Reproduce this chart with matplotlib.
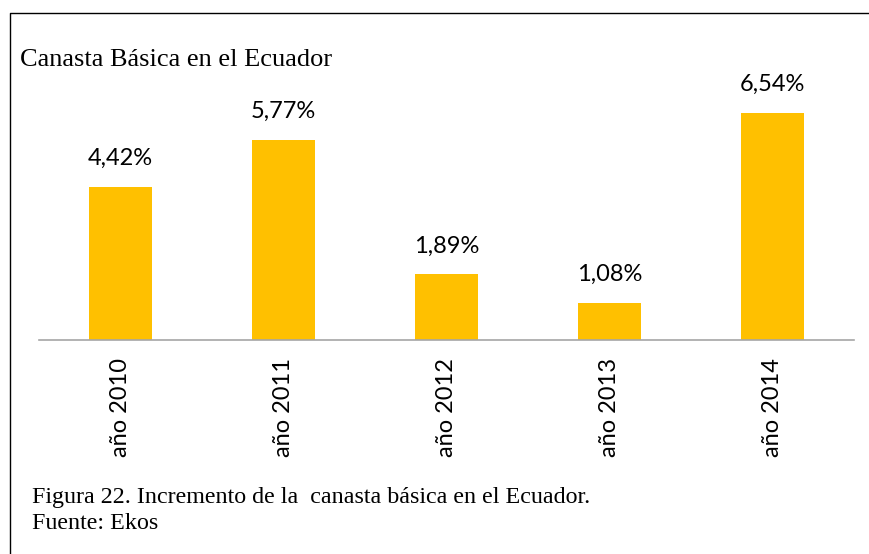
import matplotlib
matplotlib.use("Agg")
import matplotlib.pyplot as plt
from matplotlib.lines import Line2D

years = ["año 2010", "año 2011", "año 2012", "año 2013", "año 2014"]
values = [4.42, 5.77, 1.89, 1.08, 6.54]
labels = ["4,42%", "5,77%", "1,89%", "1,08%", "6,54%"]

W, H = 869, 554
fig = plt.figure(figsize=(W / 100, H / 100), dpi=100)

# plot area in pixels: x 39..854, baseline at y=340, top at y=80
ax = fig.add_axes([39 / W, (H - 340) / H, (854 - 39) / W, (340 - 80) / H])
ax.bar(range(len(values)), values, width=0.39, color="#FFC000")
ax.set_xlim(-0.5, len(values) - 0.5)
ax.set_ylim(0, 7.5)

for i, (v, t) in enumerate(zip(values, labels)):
    ax.annotate(t, (i, v), xytext=(0, 13), textcoords="offset points",
                ha="center", va="bottom", fontsize=17, family="Lato")

for s in ["top", "left", "right"]:
    ax.spines[s].set_visible(False)
ax.spines["bottom"].set_color("#A6A6A6")
ax.spines["bottom"].set_linewidth(1.2)
ax.set_yticks([])
ax.set_xticks(range(len(years)))
ax.set_xticklabels(years, rotation=90, fontsize=17, family="Lato")
ax.tick_params(axis="x", length=0, pad=13)

fig.text(20 / W, (H - 66) / H, "Canasta Básica en el Ecuador",
         family="Liberation Serif", fontsize=19, va="baseline")
fig.text(32 / W, (H - 503) / H,
         "Figura 22. Incremento de la  canasta básica en el Ecuador.",
         family="Liberation Serif", fontsize=17.25, va="baseline")
fig.text(32 / W, (H - 529) / H, "Fuente: Ekos",
         family="Liberation Serif", fontsize=17.25, va="baseline")

# frame lines (left and top)
fig.add_artist(Line2D([9.5 / W, 9.5 / W, 1.0], [0.0, (H - 12.5) / H, (H - 12.5) / H],
                      transform=fig.transFigure, color="black", linewidth=1.0))

fig.savefig("out.png", dpi=100)
